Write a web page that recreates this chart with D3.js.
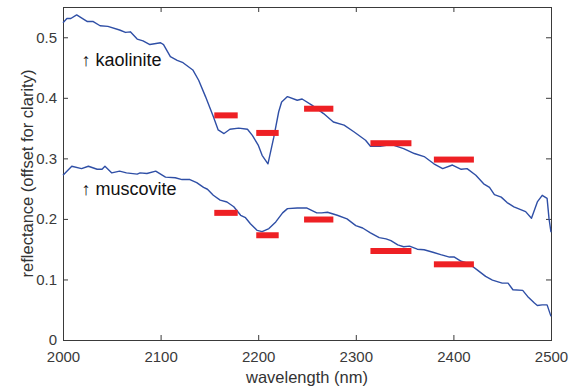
<!DOCTYPE html>
<html>
<head>
<meta charset="utf-8">
<script src="https://cdn.jsdelivr.net/npm/d3@7"></script>
<style>
  body { margin: 0; background: #fff; }
  text { font-family: "Liberation Sans", Arial, Helvetica, sans-serif; }
</style>
</head>
<body>
<div id="chartid"></div>
<script>

/***** data *****/
var xTicks = [2000, 2100, 2200, 2300, 2400, 2500];
var yTicks = [0, 0.1, 0.2, 0.3, 0.4, 0.5];

var kaolWl = [2000, 2004, 2008, 2014, 2025, 2031, 2038, 2046, 2058, 2064, 2069, 2076, 2082, 2089,
  2100, 2103, 2110, 2117, 2123, 2133, 2139, 2146, 2154, 2159, 2165, 2171, 2180, 2189, 2194, 2200,
  2204, 2210, 2216, 2221, 2224, 2230, 2240, 2245, 2255, 2267, 2277, 2288, 2298, 2310, 2315, 2325,
  2336, 2349, 2360, 2370, 2380, 2389, 2399, 2408, 2414, 2423, 2431, 2437, 2442, 2449, 2455, 2462,
  2474, 2480, 2486, 2491, 2496, 2498, 2500];
var kaolValue = [0.524, 0.531, 0.531, 0.537, 0.526, 0.526, 0.519, 0.518, 0.512, 0.508, 0.509, 0.497, 0.494, 0.488,
  0.491, 0.488, 0.468, 0.462, 0.458, 0.446, 0.429, 0.402, 0.369, 0.347, 0.341, 0.348, 0.350, 0.348, 0.338, 0.322,
  0.305, 0.291, 0.335, 0.377, 0.393, 0.402, 0.396, 0.398, 0.388, 0.374, 0.360, 0.355, 0.344, 0.330, 0.320, 0.320,
  0.323, 0.316, 0.308, 0.303, 0.291, 0.283, 0.289, 0.282, 0.283, 0.272, 0.258, 0.252, 0.240, 0.236, 0.227, 0.220,
  0.212, 0.201, 0.228, 0.239, 0.234, 0.200, 0.178];

var muscWl = [2000, 2009, 2019, 2026, 2035, 2040, 2043, 2050, 2058, 2065, 2076, 2079, 2086, 2095,
  2105, 2115, 2122, 2130, 2137, 2144, 2148, 2154, 2161, 2168, 2175, 2182, 2187, 2192, 2199, 2204,
  2211, 2218, 2225, 2230, 2240, 2250, 2260, 2265, 2271, 2281, 2291, 2300, 2307, 2315, 2324, 2331,
  2336, 2343, 2349, 2355, 2363, 2370, 2379, 2387, 2396, 2401, 2408, 2416, 2425, 2433, 2440, 2450,
  2456, 2461, 2471, 2476, 2483, 2486, 2491, 2496, 2500];
var muscValue = [0.272, 0.287, 0.283, 0.287, 0.282, 0.282, 0.287, 0.276, 0.279, 0.276, 0.274, 0.276, 0.275, 0.279,
  0.269, 0.268, 0.265, 0.265, 0.260, 0.252, 0.249, 0.239, 0.231, 0.228, 0.220, 0.206, 0.202, 0.192, 0.181, 0.179,
  0.184, 0.195, 0.210, 0.217, 0.218, 0.218, 0.210, 0.210, 0.211, 0.206, 0.200, 0.189, 0.185, 0.177, 0.169, 0.167,
  0.164, 0.157, 0.154, 0.155, 0.150, 0.149, 0.145, 0.141, 0.137, 0.137, 0.130, 0.126, 0.115, 0.105, 0.099, 0.094,
  0.094, 0.083, 0.082, 0.072, 0.061, 0.057, 0.058, 0.058, 0.039];

// absorption feature markers: start / end wavelength and level
var barStart = [2155, 2198, 2247, 2315, 2380];
var barEnd = [2179, 2221, 2277, 2357, 2421];
var kaolBarValue = [0.371, 0.342, 0.382, 0.325, 0.298];
var muscBarValue = [0.210, 0.173, 0.199, 0.147, 0.125];

var labelNames = ["\u2191 kaolinite", "\u2191 muscovite"];
var labelPos = [[2019, 0.452], [2019, 0.239]];

/***** chart parameters *****/
var totalWidth = 576;
var totalHeight = 388;
var margin = {top: 7, right: 25, bottom: 48, left: 63};
var width = totalWidth - margin.left - margin.right;
var height = totalHeight - margin.top - margin.bottom;
var axisColor = "#3a3a3a";

var svg = d3.select("div#chartid")
  .append("svg")
  .attr("width", totalWidth)
  .attr("height", totalHeight)
  .append("g")
  .attr("transform", "translate(" + margin.left + "," + margin.top + ")")
;

//scales
var x = d3.scaleLinear()
  .domain([2000, 2500])
  .range([0, width])
;
var y = d3.scaleLinear()
  .domain([0, 0.55])
  .range([height, 0])
;

//axes, ticks pointing inward like matlab
var xAxis = d3.axisBottom(x)
  .tickValues(xTicks)
  .tickFormat(d3.format("d"))
  .tickSizeInner(-5)
  .tickSizeOuter(0)
  .tickPadding(11)
;
var yAxis = d3.axisLeft(y)
  .tickValues(yTicks)
  .tickFormat(function(d) { return d === 0 ? "0" : d3.format(".1f")(d); })
  .tickSizeInner(-5)
  .tickSizeOuter(0)
  .tickPadding(6)
;
var xAxisTop = d3.axisTop(x).tickValues(xTicks).tickFormat("").tickSizeInner(-5).tickSizeOuter(0);
var yAxisRight = d3.axisRight(y).tickValues(yTicks).tickFormat("").tickSizeInner(-5).tickSizeOuter(0);

function styleAxis(g) {
  g.select(".domain").remove();
  g.selectAll(".tick line").attr("stroke", axisColor);
  g.selectAll(".tick text")
    .attr("fill", "#3a3a3a")
    .style("font-size", "15px")
    .style("font-family", "'Liberation Sans', Arial, sans-serif");
}

svg.append("g")
  .attr("class", "x axis")
  .attr("transform", "translate(0," + height + ")")
  .call(xAxis)
  .call(styleAxis)
;
svg.append("g")
  .attr("class", "y axis")
  .call(yAxis)
  .call(styleAxis)
;
svg.append("g").call(xAxisTop).call(styleAxis);
svg.append("g").attr("transform", "translate(" + width + ",0)").call(yAxisRight).call(styleAxis);

//box
svg.append("rect")
  .attr("x", 0.5)
  .attr("y", 0.5)
  .attr("width", width)
  .attr("height", height)
  .attr("fill", "none")
  .attr("stroke", axisColor)
  .attr("stroke-width", 1)
;

//spectra
var line = d3.line()
  .x(function(d) { return x(d[0]); })
  .y(function(d) { return y(d[1]); })
;

var spectra = [d3.zip(kaolWl, kaolValue), d3.zip(muscWl, muscValue)];

svg.selectAll("path.spectrum")
  .data(spectra)
  .enter()
  .append("path")
  .attr("class", "spectrum")
  .attr("d", line)
  .attr("fill", "none")
  .attr("stroke", "#2f4fa6")
  .attr("stroke-width", 1.4)
  .attr("stroke-linejoin", "round")
;

//red feature bars
var bars = [];
barStart.forEach(function(s, i) {
  bars.push({x0: s, x1: barEnd[i], v: kaolBarValue[i]});
  bars.push({x0: s, x1: barEnd[i], v: muscBarValue[i]});
});

svg.selectAll("rect.bar")
  .data(bars)
  .enter()
  .append("rect")
  .attr("class", "bar")
  .attr("x", function(d) { return x(d.x0); })
  .attr("width", function(d) { return x(d.x1) - x(d.x0); })
  .attr("y", function(d) { return y(d.v) - 3; })
  .attr("height", 6)
  .attr("fill", "#ee2024")
;

//mineral labels
svg.selectAll("text.mineral")
  .data(labelNames)
  .enter()
  .append("text")
  .attr("class", "mineral")
  .attr("x", function(d, i) { return x(labelPos[i][0]); })
  .attr("y", function(d, i) { return y(labelPos[i][1]); })
  .style("font-size", "18px")
  .attr("fill", "#111")
  .text(function(d) { return d; })
;

//axis labels
svg.append("text")
  .attr("x", width / 2)
  .attr("y", height + 43)
  .attr("text-anchor", "middle")
  .style("font-size", "16.5px")
  .attr("fill", "#333")
  .text("wavelength (nm)")
;
svg.append("text")
  .attr("transform", "translate(" + (-30) + "," + (height / 2) + ") rotate(-90)")
  .attr("text-anchor", "middle")
  .style("font-size", "16.5px")
  .attr("fill", "#333")
  .text("reflectance (offset for clarity)")
;

</script>
</body>
</html>
